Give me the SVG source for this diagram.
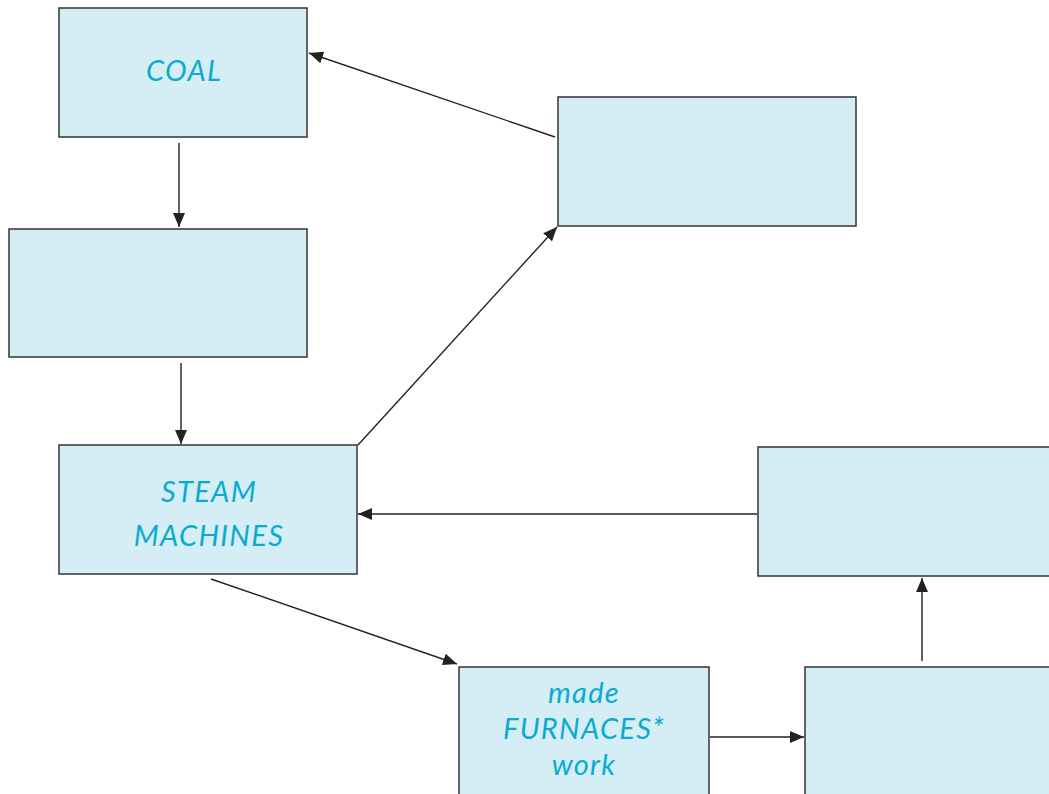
<svg xmlns="http://www.w3.org/2000/svg" width="1049" height="794" viewBox="0 0 1049 794">
<style>
.box{fill:#d5edf5;stroke:#333;stroke-width:1.5}
.lbl{font-family:Lato,"Open Sans",sans-serif;font-style:italic;font-size:29px;letter-spacing:1.3px;fill:#0aabd0;text-anchor:middle}
.con{stroke:#222;stroke-width:1.4;fill:none;marker-end:url(#ah)}
</style>
<defs>
<marker id="ah" viewBox="0 0 14 12" refX="14" refY="6" markerWidth="14" markerHeight="12" markerUnits="userSpaceOnUse" orient="auto">
<path d="M0,0 L14,6 L0,12 z" fill="#222"/>
</marker>
</defs>
<rect width="1049" height="794" fill="#fff"/>
<g id="coal"><rect class="box" x="59" y="8" width="248" height="129"/><text class="lbl" x="184" y="81">COAL</text></g>
<g id="box2"><rect class="box" x="9" y="229" width="298" height="128"/></g>
<g id="steam"><rect class="box" x="59" y="445" width="298" height="129"/><text class="lbl" x="209" y="502">STEAM</text><text class="lbl" x="209" y="546">MACHINES</text></g>
<g id="topright"><rect class="box" x="558" y="97" width="298" height="129"/></g>
<g id="rightmid"><rect class="box" x="758" y="447" width="300" height="129"/></g>
<g id="furnaces"><rect class="box" x="459" y="667" width="250" height="140"/><text class="lbl" x="584" y="703">made</text><text class="lbl" x="584" y="739">FURNACES*</text><text class="lbl" x="584" y="775">work</text></g>
<g id="bottomright"><rect class="box" x="805" y="667" width="260" height="140"/></g>
<g id="connectors">
<line class="con" x1="179" y1="143" x2="179" y2="227"/>
<line class="con" x1="181" y1="363" x2="181" y2="444"/>
<line class="con" x1="358" y1="445" x2="557" y2="227"/>
<line class="con" x1="555" y1="137" x2="309" y2="53"/>
<line class="con" x1="757" y1="514" x2="358" y2="514"/>
<line class="con" x1="211" y1="579" x2="457" y2="664"/>
<line class="con" x1="710" y1="737" x2="804" y2="737"/>
<line class="con" x1="922" y1="661" x2="922" y2="578"/>
</g>
</svg>
